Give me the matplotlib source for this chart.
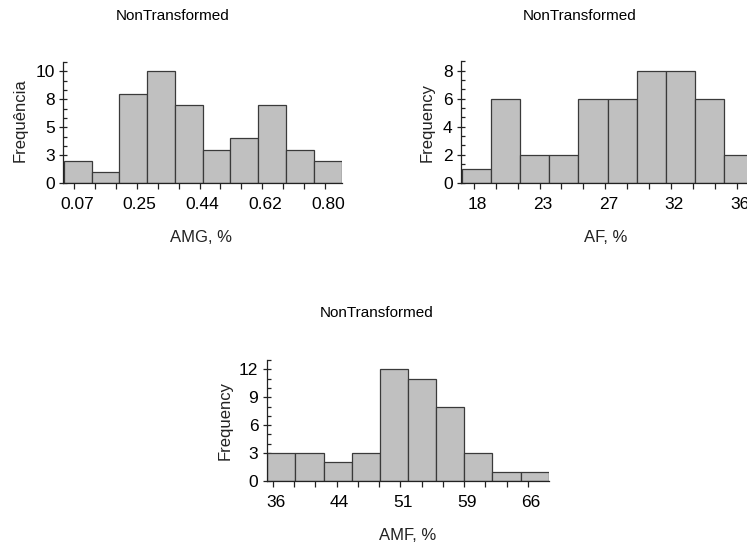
import numpy as np
import matplotlib
matplotlib.use("Agg")
import matplotlib.pyplot as plt
from matplotlib.ticker import FixedLocator, MultipleLocator
import matplotlib.transforms as mtransforms

plt.rcParams['font.family'] = ['Liberation Sans', 'DejaVu Sans']

# --- data ---
amg_edges = [0.041, 0.122, 0.202, 0.283, 0.364, 0.445, 0.525, 0.606, 0.687, 0.767, 0.848]
amg_counts = [2, 1, 8, 10, 7, 3, 4, 7, 3, 2]
amg_xticks = [0.07, 0.2525, 0.435, 0.6175, 0.80]
amg_xlabels = ['0.07', '0.25', '0.44', '0.62', '0.80']
amg_yticks = [0, 2.5, 5, 7.5, 10]
amg_ylabels = ['0', '3', '5', '8', '10']

af_edges = [17.16, 19.16, 21.16, 23.16, 25.16, 27.16, 29.16, 31.16, 33.16, 35.16, 37.16]
af_counts = [1, 6, 2, 2, 6, 6, 8, 8, 6, 2]
af_xticks = [18, 22.5, 27, 31.5, 36]
af_xlabels = ['18', '23', '27', '32', '36']
af_yticks = [0, 2, 4, 6, 8]
af_ylabels = ['0', '2', '4', '6', '8']

amf_edges = [35.54, 38.85, 42.16, 45.47, 48.78, 52.09, 55.40, 58.71, 62.02, 65.33, 68.64]
amf_counts = [3, 3, 2, 3, 12, 11, 8, 3, 1, 1]
amf_xticks = [36.2, 43.7, 51.2, 58.7, 66.2]
amf_xlabels = ['36', '44', '51', '59', '66']
amf_yticks = [0, 3, 6, 9, 12]
amf_ylabels = ['0', '3', '6', '9', '12']

W, H = 747, 546
fig = plt.figure(figsize=(W / 100, H / 100), dpi=100)


def px_axes(left, right, top, bottom):
    return fig.add_axes([left / W, 1 - bottom / H, (right - left) / W, (bottom - top) / H])


def fig_text(x, y, s, **kw):
    fig.text(x / W, 1 - y / H, s, ha='center', va='center', **kw)


def hist_panel(ax, edges, counts, xticks, xlabels, yticks, ylabels, yminor, ytop):
    edges = np.array(edges)
    ax.bar(edges[:-1], counts, width=np.diff(edges), align='edge',
           color='#c0c0c0', edgecolor='#3a3a3a', linewidth=0.9, zorder=2)
    x0, x1 = edges[0] - (edges[1] - edges[0]) * 0.02, edges[-1]
    ax.set_xlim(x0, x1)
    ax.set_ylim(0, ytop)
    for s in ['top', 'right']:
        ax.spines[s].set_visible(False)
    for s in ['left', 'bottom']:
        ax.spines[s].set_color('#222222')
        ax.spines[s].set_linewidth(0.9)
    ax.xaxis.set_major_locator(FixedLocator(xticks))
    ax.set_xticklabels(xlabels)
    # two minor ticks between majors, aligned to the major ticks
    step = (xticks[1] - xticks[0]) / 3
    k = np.arange(-3, 3 * len(xticks) + 3)
    minors = xticks[0] + k * step
    minors = minors[(minors >= x0) & (minors <= x1) & (k % 3 != 0)]
    ax.xaxis.set_minor_locator(FixedLocator(minors))
    ax.yaxis.set_major_locator(FixedLocator(yticks))
    ax.set_yticklabels(ylabels)
    ax.yaxis.set_minor_locator(MultipleLocator(yminor))
    ax.tick_params(axis='x', which='both', direction='out', length=4, width=0.9,
                   color='#222222', labelsize=12.5, pad=6)
    ax.tick_params(axis='y', which='major', direction='inout', length=6, width=0.9,
                   color='#222222', labelsize=12.5, pad=3)
    ax.tick_params(axis='y', which='minor', direction='in', length=3, width=0.9,
                   color='#222222')
    # labels sit a little right of their ticks in the original
    offset = mtransforms.ScaledTranslation(3 / 100, 0, fig.dpi_scale_trans)
    for lab in ax.get_xticklabels():
        lab.set_transform(lab.get_transform() + offset)


ax1 = px_axes(63.3, 341.7, 61.7, 183.3)
hist_panel(ax1, amg_edges, amg_counts, amg_xticks, amg_xlabels, amg_yticks, amg_ylabels,
           2.5 / 3, 10.85)

ax2 = px_axes(461, 753.6, 61, 182.7)
hist_panel(ax2, af_edges, af_counts, af_xticks, af_xlabels, af_yticks, af_ylabels,
           2 / 3, 8.68)

ax3 = px_axes(266.7, 548.7, 359.5, 481)
hist_panel(ax3, amf_edges, amf_counts, amf_xticks, amf_xlabels, amf_yticks, amf_ylabels,
           1, 13.05)

# titles and axis labels
fig_text(172.5, 16.5, 'NonTransformed', fontsize=11)
fig_text(580, 16.5, 'NonTransformed', fontsize=11)
fig_text(377, 313, 'NonTransformed', fontsize=11)

fig_text(201, 238, 'AMG, %', fontsize=12, color='#222222')
fig_text(606, 238, 'AF, %', fontsize=12, color='#222222')
fig_text(407.5, 535, 'AMF, %', fontsize=12, color='#222222')

fig_text(20, 120, 'Frequência', fontsize=12, rotation=90, color='#222222')
fig_text(427, 122, 'Frequency', fontsize=12, rotation=90, color='#222222')
fig_text(225, 420, 'Frequency', fontsize=12, rotation=90, color='#222222')

fig.savefig('out.png', dpi=100)
